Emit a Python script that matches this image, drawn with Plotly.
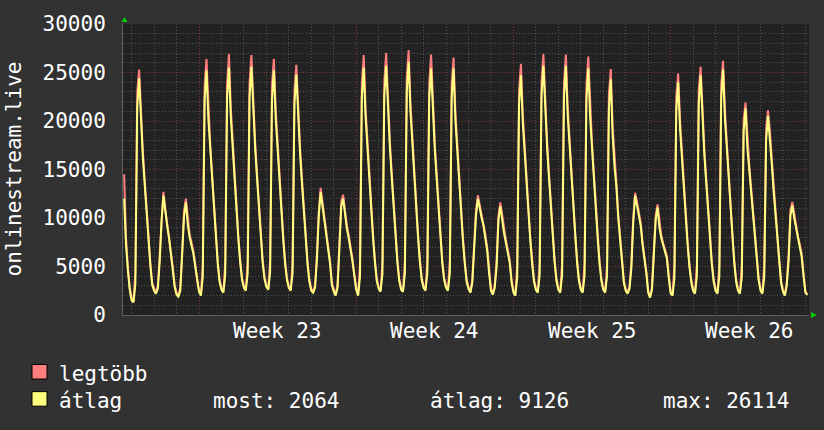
import plotly.graph_objects as go

# ---- time base: days relative to Monday 00:00 of week 23 ----
start_day = -4 + 16 / 24   # Thursday 16:00 of week 22
step_days = 2 / 24         # 2-hour samples

# ---- átlag (average) values, 2-hour samples ----
avg_w22 = [
    12000, 7200, 4600, 2600,
    1500, 1300, 3200, 21500, 24400, 19500, 16300, 13400, 10500, 7600, 5100, 3100,
    2500, 2200, 2700, 5500, 9800, 12300, 10500, 9200, 7900, 6400, 4700, 2900,
    2100, 1900, 2500, 5800, 10200, 11600, 9300, 8000, 7200, 6300, 5000, 3400,
]
avg_w23 = [
    2400, 2000, 3900, 22200, 25200, 20200, 17000, 13900, 10900, 7800, 5300, 3400,
    2600, 2300, 4100, 22400, 25500, 20400, 17100, 14000, 11000, 7900, 5400, 3600,
    2800, 2500, 4300, 22500, 25600, 20500, 17200, 14100, 11000, 7900, 5400, 3700,
    2900, 2600, 4400, 22200, 25200, 20200, 16900, 13900, 10800, 7800, 5300, 3600,
    2800, 2500, 4300, 21800, 24800, 19800, 16600, 13600, 10700, 7700, 5200, 3400,
    2500, 2300, 2800, 5700, 10200, 12700, 11200, 10000, 8600, 7200, 5300, 3100,
    2400, 2000, 2800, 6800, 11200, 12000, 10200, 8900, 7900, 6800, 5500, 4000,
]
avg_w24 = [
    2600, 2000, 3900, 22400, 25500, 20400, 17100, 14000, 11000, 7900, 5400, 3500,
    2700, 2400, 4200, 22600, 25700, 20600, 17200, 14100, 11100, 8000, 5400, 3500,
    2600, 2400, 4300, 23000, 26114, 20900, 17500, 14400, 11200, 8100, 5500, 3600,
    2800, 2500, 4300, 22400, 25400, 20300, 17000, 14000, 10900, 7900, 5300, 3600,
    2800, 2500, 4300, 22400, 25400, 20000, 16800, 13700, 10800, 7700, 5300, 3400,
    2700, 2300, 3300, 6500, 10300, 12000, 10900, 10000, 9200, 8000, 6600, 4300,
    2500, 2100, 2800, 5000, 9800, 11200, 9700, 8400, 7400, 6400, 5400, 3400,
]
avg_w25 = [
    2300, 2000, 3800, 21700, 24700, 19800, 16500, 13600, 10600, 7700, 5200, 3400,
    2600, 2300, 4100, 22600, 25700, 20600, 17200, 14100, 11100, 8000, 5400, 3500,
    2600, 2300, 4100, 22500, 25700, 20500, 17300, 14200, 11000, 7900, 5400, 3500,
    2600, 2300, 4100, 22300, 25400, 20300, 17000, 14000, 10900, 7900, 5300, 3500,
    2600, 2300, 4000, 21300, 24300, 18500, 15300, 13200, 10000, 7600, 5500, 3300,
    2500, 2200, 2700, 4800, 9500, 12300, 11300, 10300, 9200, 7200, 5800, 4300,
    2300, 1800, 2600, 5600, 9800, 11100, 9000, 7900, 7100, 6500, 5800, 3800,
]
avg_w26 = [
    2200, 2000, 3800, 21100, 24000, 19200, 16100, 13200, 10300, 7400, 5000, 3400,
    2500, 2200, 4000, 21700, 24700, 19800, 16500, 13600, 10600, 7700, 5200, 3400,
    2500, 2200, 4000, 22300, 25300, 20200, 17000, 13900, 10900, 7800, 5300, 3400,
    2500, 2200, 3900, 18900, 21300, 17200, 14800, 12600, 10300, 7700, 5500, 3600,
    2500, 2200, 3900, 18000, 20500, 18300, 15600, 12800, 10300, 7800, 5300, 3300,
    2400, 2000, 3000, 5600, 10300, 11300, 10000, 8900, 7800, 7000, 6000, 4000,
    2300, 2064,
]

# ---- legtöbb (maximum) values, same samples ----
max_w22 = [
    14500, 8000, 5000, 2800,
    1700, 1400, 4500, 23000, 25300, 20400, 16900, 13900, 10900, 7900, 5400, 3300,
    2700, 2300, 3000, 6100, 10300, 12700, 10900, 9500, 8200, 6700, 5000, 3100,
    2300, 2000, 2800, 6300, 10700, 12000, 9700, 8300, 7500, 6600, 5300, 3600,
]
max_w23 = [
    2600, 2100, 5200, 23700, 26400, 21100, 17600, 14400, 11300, 8100, 5600, 3600,
    2800, 2400, 5400, 23900, 26900, 21300, 17700, 14500, 11400, 8200, 5700, 3800,
    3000, 2600, 5600, 24000, 26800, 21400, 17800, 14600, 11400, 8200, 5700, 3900,
    3100, 2700, 5700, 23700, 26400, 21100, 17500, 14400, 11200, 8100, 5600, 3800,
    3000, 2600, 5600, 23300, 25800, 20700, 17200, 14100, 11100, 8000, 5500, 3600,
    2700, 2400, 3100, 6300, 10700, 13100, 11600, 10300, 8900, 7500, 5600, 3300,
    2600, 2100, 3100, 7300, 11700, 12400, 10600, 9200, 8200, 7100, 5800, 4200,
]
max_w24 = [
    2800, 2100, 5200, 23900, 26800, 21300, 17700, 14500, 11400, 8200, 5700, 3700,
    2900, 2500, 5500, 24100, 27000, 21500, 17800, 14600, 11500, 8300, 5700, 3700,
    2800, 2500, 5600, 24500, 27300, 21800, 18100, 14900, 11600, 8400, 5800, 3800,
    3000, 2600, 5600, 23900, 26850, 21200, 17600, 14500, 11300, 8200, 5600, 3800,
    3000, 2600, 5600, 23900, 26550, 20900, 17400, 14200, 11200, 8000, 5600, 3600,
    2900, 2400, 3600, 7100, 10800, 12350, 11300, 10300, 9500, 8300, 6900, 4500,
    2700, 2200, 3100, 5600, 10300, 11600, 10100, 8700, 7700, 6700, 5700, 3600,
]
max_w25 = [
    2500, 2100, 5100, 23200, 25900, 20700, 17100, 14100, 11000, 8000, 5500, 3600,
    2800, 2400, 5400, 24100, 26900, 21500, 17800, 14600, 11500, 8300, 5700, 3700,
    2800, 2400, 5400, 24000, 26850, 21400, 17900, 14700, 11400, 8200, 5700, 3700,
    2800, 2400, 5400, 23800, 26650, 21200, 17600, 14500, 11300, 8200, 5600, 3700,
    2800, 2400, 5300, 22800, 25350, 19400, 15900, 13700, 10400, 7900, 5800, 3500,
    2700, 2300, 3000, 5400, 10000, 12600, 11700, 10600, 9500, 7500, 6100, 4500,
    2500, 1900, 2900, 6200, 10300, 11400, 9400, 8200, 7400, 6800, 6100, 4000,
]
max_w26 = [
    2400, 2100, 5100, 22600, 24900, 20100, 16700, 13700, 10700, 7700, 5300, 3600,
    2700, 2300, 5300, 23200, 25600, 20700, 17100, 14100, 11000, 8000, 5500, 3600,
    2700, 2300, 5300, 23800, 26200, 21100, 17600, 14400, 11300, 8100, 5600, 3600,
    2700, 2300, 5200, 20200, 21900, 18000, 15400, 13100, 10700, 8000, 5800, 3800,
    2700, 2300, 5200, 19300, 21100, 19100, 16200, 13300, 10700, 8100, 5600, 3500,
    2600, 2100, 3300, 6200, 10800, 11650, 10400, 9200, 8100, 7300, 6300, 4200,
    2400, 2150,
]

week_labels = ["Week 23", "Week 24", "Week 25", "Week 26"]
week_label_pos = [3.5, 10.5, 17.5, 24.5]
week_starts = [0, 7, 14, 21]
y_ticks = [0, 5000, 10000, 15000, 20000, 25000, 30000]
y_tick_text = ["0", "5000", "10000", "15000", "20000", "25000", "30000"]

series_title = "onlinestream.live"
name_max = "legtöbb"
name_avg = "átlag"
stat_now, stat_avg, stat_max = 2064, 9126, 26114

avg_vals = avg_w22 + avg_w23 + avg_w24 + avg_w25 + avg_w26
max_vals = max_w22 + max_w23 + max_w24 + max_w25 + max_w26
t_vals = [start_day + i * step_days for i in range(len(avg_vals))]

# ---- layout geometry (pixels) ----
W, H = 824, 430
ML, MR, MT, MB = 123, 15, 15, 115
PW, PH = W - ML - MR, H - MT - MB

def px_x(px):
    return (px - ML) / PW

def px_y(py):
    return (H - MB - py) / PH

FONT = "DejaVu Sans Mono"
FS = 21
TXT = "#ffffff"
RED = "#ff7f7f"
YEL = "#ffff7f"
BG = "#323232"
CANVAS = "#222222"
MINOR = "#505050"
MAJOR = "#7a3a3a"
DOT = "1px,2px"

fig = go.Figure()
fig.add_trace(go.Scatter(x=t_vals, y=max_vals, mode="lines", name=name_max,
                         line=dict(color=RED, width=2)))
fig.add_trace(go.Scatter(x=t_vals, y=avg_vals, mode="lines", name=name_avg,
                         line=dict(color=YEL, width=2)))

fig.update_layout(
    width=W, height=H, autosize=False,
    margin=dict(l=ML, r=MR, t=MT, b=MB, pad=0),
    paper_bgcolor=BG, plot_bgcolor=CANVAS,
    showlegend=False,
    font=dict(family=FONT, size=FS, color=TXT),
    xaxis=dict(
        range=[-3.384, 27.159], tickvals=week_starts, showticklabels=False,
        ticks="", showgrid=True, gridcolor=MAJOR, griddash=DOT, gridwidth=1,
        minor=dict(dtick=1, tick0=0, showgrid=True, gridcolor=MINOR, griddash=DOT, gridwidth=1),
        zeroline=False, showline=True, linecolor="#606060", linewidth=1,
    ),
    yaxis=dict(
        range=[0, 30000], tickvals=y_ticks, ticktext=y_tick_text, ticks="outside", ticklen=12,
        tickcolor="rgba(0,0,0,0)", showgrid=True, gridcolor=MAJOR, griddash=DOT,
        minor=dict(dtick=1000, showgrid=True, gridcolor=MINOR, griddash=DOT),
        zeroline=False, showline=True, linecolor="#606060", linewidth=1,
        tickfont=dict(family=FONT, size=FS, color=TXT),
    ),
)

ann = []
for lab, pos in zip(week_labels, week_label_pos):
    ann.append(dict(x=pos, y=px_y(331), xref="x", yref="paper", text=lab,
                    showarrow=False, xanchor="center", yanchor="middle",
                    font=dict(family=FONT, size=FS, color=TXT)))
ann.append(dict(x=px_x(13), y=0.5, xref="paper", yref="paper", text=series_title,
                textangle=-90, showarrow=False, xanchor="center", yanchor="middle",
                font=dict(family=FONT, size=FS, color=TXT)))
legend_rows = [
    (name_max, 57, 376),
    (name_avg, 57, 404),
    (f"most: {stat_now}", 211, 404),
    (f"{name_avg}: {stat_avg}", 428, 404),
    (f"max: {stat_max}", 661, 404),
]
for text, lx, ly in legend_rows:
    ann.append(dict(x=px_x(lx), y=px_y(ly), xref="paper", yref="paper", text=text,
                    showarrow=False, xanchor="left", yanchor="middle",
                    font=dict(family=FONT, size=FS, color=TXT)))
fig.update_layout(annotations=ann)

shapes = [
    dict(type="rect", xref="paper", yref="paper", x0=px_x(32), x1=px_x(47),
         y0=px_y(381), y1=px_y(366), fillcolor=RED, line=dict(color="#000000", width=1)),
    dict(type="rect", xref="paper", yref="paper", x0=px_x(32), x1=px_x(47),
         y0=px_y(409), y1=px_y(394), fillcolor=YEL, line=dict(color="#000000", width=1)),
    dict(type="path", xref="paper", yref="paper", xsizemode="pixel", ysizemode="pixel",
         xanchor=0, yanchor=1, path="M -1.5,2 L 4.5,2 L 1.5,7 Z",
         fillcolor="#00cc00", line=dict(width=0)),
    dict(type="path", xref="paper", yref="paper", xsizemode="pixel", ysizemode="pixel",
         xanchor=1, yanchor=0, path="M 2,3 L 2,-3 L 8,0 Z",
         fillcolor="#00cc00", line=dict(width=0)),
]
fig.update_layout(shapes=shapes)

fig.write_html("out.html")
